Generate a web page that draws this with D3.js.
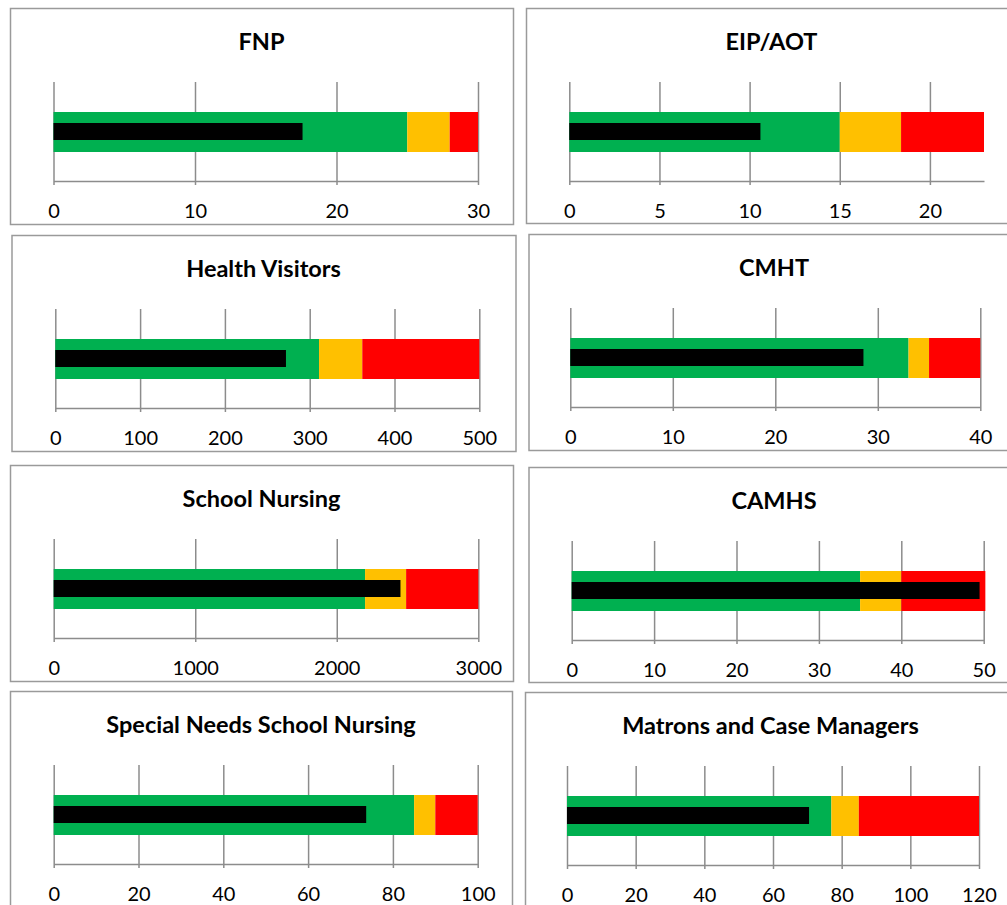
<!DOCTYPE html>
<html>
<head>
<meta charset="utf-8">
<script src="https://cdn.jsdelivr.net/npm/d3@7"></script>
<style>
  body { margin: 0; background: #fff; }
  svg { display: block; }
</style>
</head>
<body>
<svg id="chart"></svg>
<script>
const titles = ["FNP", "EIP/AOT", "Health Visitors", "CMHT", "School Nursing", "CAMHS",
                "Special Needs School Nursing", "Matrons and Case Managers"];
const greenLimits = [25, 15, 311, 33, 2200, 35, 85, 77];
const amberLimits = [28, 18.4, 362, 35, 2490, 40, 90, 85];
const redLimits = [30, 23, 500, 40, 3000, 50.2, 100, 120];
const actuals = [17.6, 10.6, 272, 28.6, 2450, 49.5, 73.7, 70.5];
const axisMax = [30, 23, 500, 40, 3000, 50, 100, 120];
const tickStep = [10, 5, 100, 10, 1000, 10, 20, 20];

const svgWidth = 1007;
const svgHeight = 905;

// panel frames and plot ranges (pixel layout)
const panels = [
    { x: 10,    y: 8,   w: 503, h: 216, x0: 53.5, x1: 478 },
    { x: 526,   y: 8,   w: 491, h: 215, x0: 569.3, x1: 984 },
    { x: 11.5,  y: 235, w: 504, h: 216, x0: 55.3, x1: 479.3 },
    { x: 528.5, y: 234, w: 491, h: 216, x0: 570.3, x1: 980.3 },
    { x: 10,    y: 465, w: 503, h: 216, x0: 53.7, x1: 478.3 },
    { x: 528.5, y: 467, w: 491, h: 215, x0: 571.7, x1: 983.7 },
    { x: 10,    y: 691, w: 502, h: 230, x0: 53.7, x1: 477.7 },
    { x: 525,   y: 692, w: 491, h: 230, x0: 567, x1: 979 }
];

const colors = { green: "#00B050", amber: "#FFC000", red: "#FF0000", actual: "#000000" };
const gridColor = "#8c8c8c";

const svg = d3.select("#chart")
    .attr("width", svgWidth)
    .attr("height", svgHeight)
    .style("font-family", "Lato, 'Open Sans', sans-serif");

panels.forEach(function(p, i) {
    const g = svg.append("g").attr("transform", `translate(${p.x},${p.y})`);

    g.append("rect")
        .attr("x", 0.5)
        .attr("y", 0.5)
        .attr("width", p.w)
        .attr("height", p.h)
        .attr("fill", "#fff")
        .attr("stroke", "#9a9a9a")
        .attr("stroke-width", 1.5);

    g.append("text")
        .attr("x", p.w / 2)
        .attr("y", 34)
        .attr("dy", "0.35em")
        .attr("text-anchor", "middle")
        .style("font-size", "23.5px")
        .style("font-weight", "bold")
        .attr("fill", "#000")
        .text(titles[i]);

    const gridTop = 74;
    const axisY = 173;
    const bandTop = 104;
    const bandH = 40;

    const x = d3.scaleLinear()
        .domain([0, axisMax[i]])
        .range([p.x0 - p.x, p.x1 - p.x]);

    const ticks = d3.range(0, axisMax[i] + 0.001, tickStep[i]);

    const axis = g.append("g")
        .attr("transform", `translate(0,${axisY})`)
        .call(d3.axisBottom(x).tickValues(ticks).tickSize(4).tickSizeOuter(0).tickFormat(d3.format("d")));

    axis.select(".domain")
        .attr("stroke", gridColor)
        .attr("stroke-width", 1.5);
    axis.selectAll(".tick line")
        .attr("y1", -(axisY - gridTop))
        .attr("y2", 4)
        .attr("stroke", gridColor)
        .attr("stroke-width", 1.5);
    axis.selectAll(".tick text")
        .attr("y", 30)
        .attr("dy", "0.35em")
        .attr("fill", "#000")
        .style("font-size", "20px")
        .style("font-family", "Lato, 'Open Sans', sans-serif");

    const bands = [
        { from: 0, to: greenLimits[i], color: colors.green },
        { from: greenLimits[i], to: amberLimits[i], color: colors.amber },
        { from: amberLimits[i], to: redLimits[i], color: colors.red }
    ];

    g.selectAll(".band")
        .data(bands)
        .enter().append("rect")
        .attr("class", "band")
        .attr("x", d => x(d.from))
        .attr("y", bandTop)
        .attr("width", d => x(d.to) - x(d.from))
        .attr("height", bandH)
        .attr("fill", d => d.color);

    g.append("rect")
        .attr("class", "actual")
        .attr("x", x(0))
        .attr("y", bandTop + 11)
        .attr("width", x(actuals[i]) - x(0))
        .attr("height", 17)
        .attr("fill", colors.actual);
});
</script>
</body>
</html>
